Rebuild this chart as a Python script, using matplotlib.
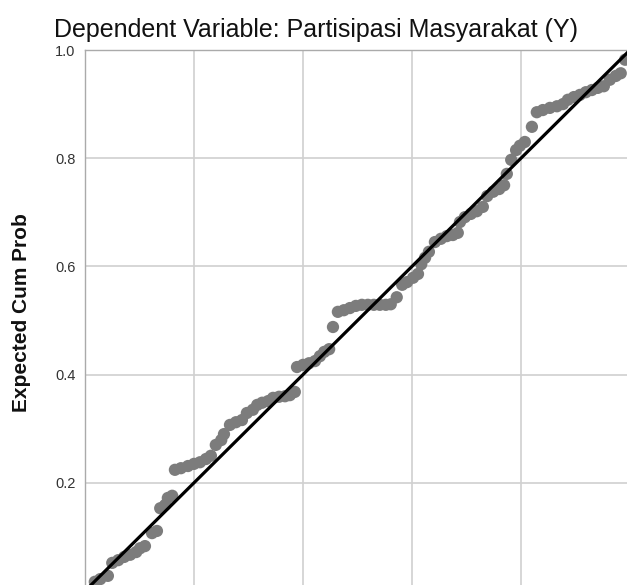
import numpy as np
import matplotlib.pyplot as plt

plt.rcParams['font.family'] = ['Liberation Sans', 'DejaVu Sans']

# observed cumulative probability (x) vs expected cumulative probability (y)
observed_cum_prob = [
    0.018, 0.028, 0.042, 0.050, 0.061, 0.072, 0.083, 0.094, 0.101, 0.110,
    0.123, 0.132, 0.138, 0.147, 0.152, 0.160, 0.165, 0.176, 0.189, 0.200,
    0.211, 0.222, 0.231, 0.240, 0.250, 0.255, 0.266, 0.277, 0.288, 0.297,
    0.308, 0.316, 0.325, 0.336, 0.345, 0.356, 0.367, 0.376, 0.385, 0.389,
    0.400, 0.411, 0.422, 0.431, 0.439, 0.448, 0.455, 0.464, 0.475, 0.486,
    0.497, 0.508, 0.519, 0.530, 0.541, 0.552, 0.561, 0.572, 0.582, 0.591,
    0.602, 0.611, 0.617, 0.624, 0.631, 0.642, 0.653, 0.664, 0.675, 0.684,
    0.688, 0.697, 0.708, 0.719, 0.730, 0.738, 0.749, 0.760, 0.769, 0.774,
    0.782, 0.791, 0.798, 0.807, 0.820, 0.829, 0.840, 0.853, 0.866, 0.877,
    0.886, 0.897, 0.908, 0.919, 0.930, 0.941, 0.952, 0.963, 0.974, 0.983,
    0.991,
]
expected_cum_prob = [
    0.017, 0.022, 0.028, 0.052, 0.057, 0.063, 0.067, 0.072, 0.079, 0.083,
    0.107, 0.111, 0.153, 0.159, 0.172, 0.176, 0.224, 0.227, 0.231, 0.235,
    0.238, 0.244, 0.250, 0.270, 0.279, 0.290, 0.307, 0.312, 0.316, 0.329,
    0.335, 0.344, 0.348, 0.351, 0.357, 0.359, 0.360, 0.362, 0.368, 0.414,
    0.418, 0.421, 0.425, 0.434, 0.442, 0.447, 0.488, 0.516, 0.519, 0.523,
    0.527, 0.529, 0.529, 0.529, 0.529, 0.529, 0.530, 0.543, 0.566, 0.571,
    0.579, 0.586, 0.604, 0.616, 0.627, 0.645, 0.651, 0.656, 0.658, 0.662,
    0.682, 0.691, 0.697, 0.702, 0.710, 0.730, 0.738, 0.743, 0.750, 0.771,
    0.797, 0.815, 0.823, 0.830, 0.858, 0.885, 0.889, 0.893, 0.896, 0.900,
    0.908, 0.913, 0.917, 0.922, 0.926, 0.930, 0.933, 0.945, 0.952, 0.957,
    0.982,
]
ref_line = [0.0, 1.0]
y_ticks = [0.2, 0.4, 0.6, 0.8, 1.0]
x_grid = [0.0, 0.2, 0.4, 0.6, 0.8]

fig = plt.figure(figsize=(6.27, 5.85), dpi=100)
# chart is cropped on the right and bottom, so the axes run past the figure edge
ax = fig.add_axes([85 / 627, -6 / 585, 545 / 627, 541 / 585])

ax.scatter(observed_cum_prob, expected_cum_prob, s=78, color='#7c7c7c',
           edgecolors='none', zorder=2)
ax.plot(ref_line, ref_line, color='black', linewidth=2.3, zorder=3)

ax.set_xlim(0, 1)
ax.set_ylim(0, 1)
ax.set_yticks(y_ticks)
ax.set_yticklabels(['%.1f' % v for v in y_ticks], fontsize=10.5, color='#333333')
ax.set_xticks(x_grid)
ax.tick_params(axis='x', length=0, labelbottom=False)
ax.tick_params(axis='y', length=0, pad=7)
ax.grid(True, color='#d0d0d0', linewidth=1.2, zorder=0)
ax.set_axisbelow(True)
for side in ax.spines.values():
    side.set_color('#aaaaaa')
    side.set_linewidth(1.0)

fig.text(22 / 627, 1 - 313 / 585, 'Expected Cum Prob', fontsize=15,
         fontweight='bold', rotation=90, ha='center', va='center', color='#111111')
fig.text(54 / 627, 1 - 30 / 585, 'Dependent Variable: Partisipasi Masyarakat (Y)',
         fontsize=18, ha='left', va='center', color='#111111')

fig.savefig('out.png', dpi=100)
